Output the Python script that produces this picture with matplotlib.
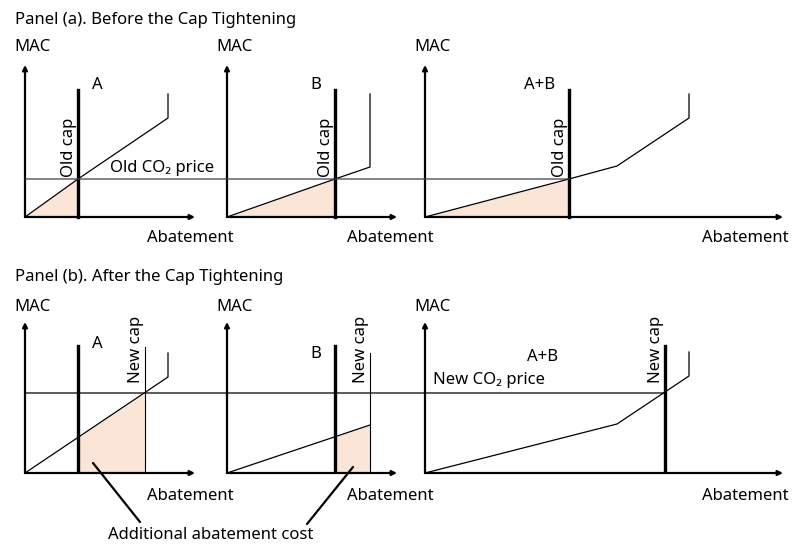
import matplotlib
matplotlib.use("Agg")
import matplotlib.pyplot as plt
import numpy as np
from matplotlib.patches import ConnectionPatch

plt.rcParams['font.family'] = ['Noto Sans', 'DejaVu Sans']
plt.rcParams['font.size'] = 12

SHADE = "#FBE5D6"
FW, FH = 803, 545

# MAC curves (abatement, MAC), panel units
a_A_x = [0, 53, 143, 143]
a_A_y = [0, 38, 99, 123]
a_B_x = [0, 108, 143, 143]
a_B_y = [0, 38, 50, 123]
a_AB_x = [0, 144, 192, 264, 264]
a_AB_y = [0, 38, 51, 99, 123]

b_A_x = [0, 143, 143]
b_A_y = [0, 96, 120]
b_B_x = [0, 143]
b_B_y = [0, 48]
b_AB_x = [0, 192, 264, 264]
b_AB_y = [0, 49, 97, 121]

# caps and prices
old_price = 38
new_price = 80
old_caps = [53, 108, 144]
new_caps = [120, 143, 240]
cap_top = 127

# panel origins in pixels (x, y from top), axis lengths
origins_a = [(25, 217), (227, 217), (425, 217)]
origins_b = [(25, 473), (227, 473), (425, 473)]
widths = [170, 170, 358]
height = 152

fig = plt.figure(figsize=(8.03, 5.45), dpi=100)


def make_ax(ox, oy, w, h):
    ax = fig.add_axes([ox / FW, (FH - oy) / FH, w / FW, h / FH])
    ax.set_xlim(0, w)
    ax.set_ylim(0, h)
    ax.axis('off')
    arrow = dict(arrowstyle='-|>', lw=1.6, color='black', mutation_scale=7,
                 shrinkA=0, shrinkB=0)
    ax.annotate('', xy=(w, 0), xytext=(0, 0), arrowprops=arrow, annotation_clip=False)
    ax.annotate('', xy=(0, h), xytext=(0, 0), arrowprops=arrow, annotation_clip=False)
    return ax


def cap_text(ax, x, y, label):
    ax.text(x - 1, y, label, rotation=90, ha='right', va='bottom', fontsize=12)


# ---------- Panel (a) ----------
fig.text(15 / FW, 1 - 20 / FH, "Panel (a). Before the Cap Tightening", va='center', fontsize=12)
curves_a = [(a_A_x, a_A_y), (a_B_x, a_B_y), (a_AB_x, a_AB_y)]
names = ["A", "B", "A+B"]
name_x_a = [72, 89, 115]
abat_x = [122, 120, 277]
axes_a = []
for i, ((ox, oy), w) in enumerate(zip(origins_a, widths)):
    ax = make_ax(ox, oy, w, height)
    cx, cy = curves_a[i]
    cap = old_caps[i]
    xs = np.array([0, cap])
    ax.fill_between(xs, 0, np.interp(xs, cx[:-1], cy[:-1]), color=SHADE, lw=0, zorder=1)
    ax.plot(cx, cy, color='black', lw=0.9, zorder=3, clip_on=False)
    ax.plot([cap, cap], [0, cap_top], color='black', lw=2.4, zorder=4, clip_on=False)
    cap_text(ax, cap, old_price + 2, "Old cap")
    ax.text(name_x_a[i], 132, names[i], ha='center', va='center')
    ax.text(-11, 170, "MAC", ha='left', va='center')
    ax.text(abat_x[i], -21, "Abatement", ha='left', va='center')
    axes_a.append(ax)

axes_a[0].text(85, 45, "Old CO\u2082 price", ha='left', va='baseline')
fig.add_artist(ConnectionPatch(xyA=(0, old_price), coordsA=axes_a[0].transData,
                               xyB=(old_caps[2], old_price), coordsB=axes_a[2].transData,
                               color='#404040', lw=0.9, zorder=2))

# ---------- Panel (b) ----------
fig.text(15 / FW, 1 - 277 / FH, "Panel (b). After the Cap Tightening", va='center', fontsize=12)
curves_b = [(b_A_x, b_A_y), (b_B_x, b_B_y), (b_AB_x, b_AB_y)]
name_pos_b = [(72, 129), (89, 119), (118, 116)]
new_cap_tops = [126, 120, 127]
axes_b = []
for i, ((ox, oy), w) in enumerate(zip(origins_b, widths)):
    ax = make_ax(ox, oy, w, height - 1)
    cx, cy = curves_b[i]
    if i < 2:
        xs = np.linspace(old_caps[i], new_caps[i], 20)
        ax.fill_between(xs, 0, np.interp(xs, cx[:2], cy[:2]), color=SHADE, lw=0, zorder=1)
        ax.plot([old_caps[i]] * 2, [0, cap_top], color='black', lw=2.4, zorder=4)
        ax.plot([new_caps[i]] * 2, [0, new_cap_tops[i]], color='black', lw=0.8, zorder=4)
    else:
        ax.plot([new_caps[i]] * 2, [0, new_cap_tops[i]], color='black', lw=2.4, zorder=4)
    cap_text(ax, new_caps[i], new_price + 10, "New cap")
    ax.plot(cx, cy, color='black', lw=0.9, zorder=3, clip_on=False)
    ax.text(name_pos_b[i][0], name_pos_b[i][1], names[i], ha='center', va='center')
    ax.text(-11, 166, "MAC", ha='left', va='center')
    ax.text(abat_x[i], -23, "Abatement", ha='left', va='center')
    axes_b.append(ax)

axes_b[2].text(8, 89, "New CO\u2082 price", ha='left', va='baseline')
fig.add_artist(ConnectionPatch(xyA=(0, new_price), coordsA=axes_b[0].transData,
                               xyB=(new_caps[2], new_price), coordsB=axes_b[2].transData,
                               color='black', lw=0.9, zorder=2))

# additional abatement cost callout
fig.text(211 / FW, 1 - 535 / FH, "Additional abatement cost", ha='center', va='center')
line = dict(arrowstyle='-', lw=1.6, color='black', shrinkA=0, shrinkB=0)
axes_b[0].annotate('', xy=(68, 10), xytext=(140 / FW, 1 - 522 / FH),
                   textcoords='figure fraction', arrowprops=line, annotation_clip=False)
axes_b[1].annotate('', xy=(126, 6), xytext=(307 / FW, 1 - 524 / FH),
                   textcoords='figure fraction', arrowprops=line, annotation_clip=False)

fig.savefig("out.png", dpi=100)
